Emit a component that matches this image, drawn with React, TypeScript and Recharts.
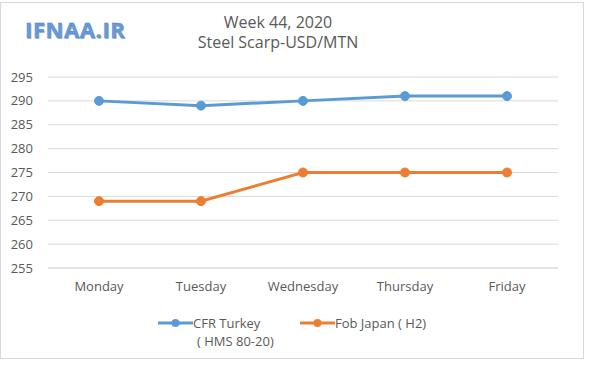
import { CartesianGrid, Line, LineChart, XAxis, YAxis } from 'recharts'

const days = ['Monday', 'Tuesday', 'Wednesday', 'Thursday', 'Friday']
const cfrTurkey = [290, 289, 290, 291, 291]
const fobJapan = [269, 269, 275, 275, 275]
const yTicks = [255, 260, 265, 270, 275, 280, 285, 290, 295]

const data = days.map((day, i) => ({
  day,
  cfr: cfrTurkey[i],
  fob: fobJapan[i],
}))

const series = [
  { key: 'cfr', color: '#5B9BD5', label: ['CFR Turkey', '( HMS 80-20)'], left: 158 },
  { key: 'fob', color: '#ED7D31', label: ['Fob Japan ( H2)'], left: 300 },
]

const FONT = '"Open Sans", "Noto Sans", sans-serif'
const TEXT = '#595959'

function ChartLegend() {
  return (
    <>
      {series.map((s) => (
        <div
          key={s.key}
          style={{ position: 'absolute', left: s.left, top: 314, display: 'flex' }}
        >
          <svg width={35} height={18}>
            <line x1={0} y1={9} x2={35} y2={9} stroke={s.color} strokeWidth={3} />
            <circle cx={17.5} cy={9} r={4} fill={s.color} />
          </svg>
          <div style={{ fontSize: 13, color: TEXT, lineHeight: '18px', marginLeft: 0 }}>
            {s.label.map((t) => (
              <div key={t} style={{ paddingLeft: t.startsWith('(') ? 4 : 0 }}>{t}</div>
            ))}
          </div>
        </div>
      ))}
    </>
  )
}

export default function App() {
  return (
    <div
      style={{
        position: 'absolute',
        left: 0,
        top: 0,
        width: 600,
        height: 365,
        background: '#fff',
        fontFamily: FONT,
      }}
    >
      <div
        style={{
          position: 'absolute',
          left: 0,
          top: 2,
          width: 584,
          height: 357,
          border: '1px solid #d9d9d9',
          boxSizing: 'border-box',
        }}
      />
      <div
        style={{
          position: 'absolute',
          left: 25,
          top: 14,
          fontSize: 22,
          fontWeight: 700,
          color: '#6a9ad6',
          letterSpacing: 0.6,
          WebkitTextStroke: '0.4px #4a7cbf',
          textShadow: '1px 1px 0 #b8c4d4',
        }}
      >
        IFNAA.IR
      </div>
      <div
        style={{
          position: 'absolute',
          left: 178,
          width: 200,
          top: 12,
          textAlign: 'center',
          fontSize: 16,
          color: TEXT,
          lineHeight: '20px',
        }}
      >
        <div>Week 44, 2020</div>
        <div>Steel Scarp-USD/MTN</div>
      </div>
      <LineChart
        width={600}
        height={365}
        data={data}
        margin={{ top: 77, right: 42, bottom: 67, left: 10 }}
        style={{ position: 'absolute', left: 0, top: 0 }}
      >
        <CartesianGrid vertical={false} stroke="#d9d9d9" />
        <XAxis
          dataKey="day"
          height={30}
          padding={{ left: 51, right: 51 }}
          axisLine={{ stroke: '#d9d9d9' }}
          tickLine={false}
          tickMargin={8}
          interval={0}
          tick={{ fill: TEXT, fontSize: 13, fontFamily: FONT }}
        />
        <YAxis
          width={38}
          domain={[255, 295]}
          ticks={yTicks}
          interval={0}
          axisLine={false}
          tickLine={false}
          tickMargin={9}
          tick={{ fill: TEXT, fontSize: 13, fontFamily: FONT }}
        />
        <Line
          dataKey="cfr"
          name="CFR Turkey"
          stroke="#5B9BD5"
          strokeWidth={3}
          dot={{ r: 4.5, fill: '#5B9BD5', stroke: '#5B9BD5', strokeWidth: 1 }}
          isAnimationActive={false}
        />
        <Line
          dataKey="fob"
          name="Fob Japan ( H2)"
          stroke="#ED7D31"
          strokeWidth={3}
          dot={{ r: 4.5, fill: '#ED7D31', stroke: '#ED7D31', strokeWidth: 1 }}
          isAnimationActive={false}
        />
      </LineChart>
      <ChartLegend />
    </div>
  )
}
